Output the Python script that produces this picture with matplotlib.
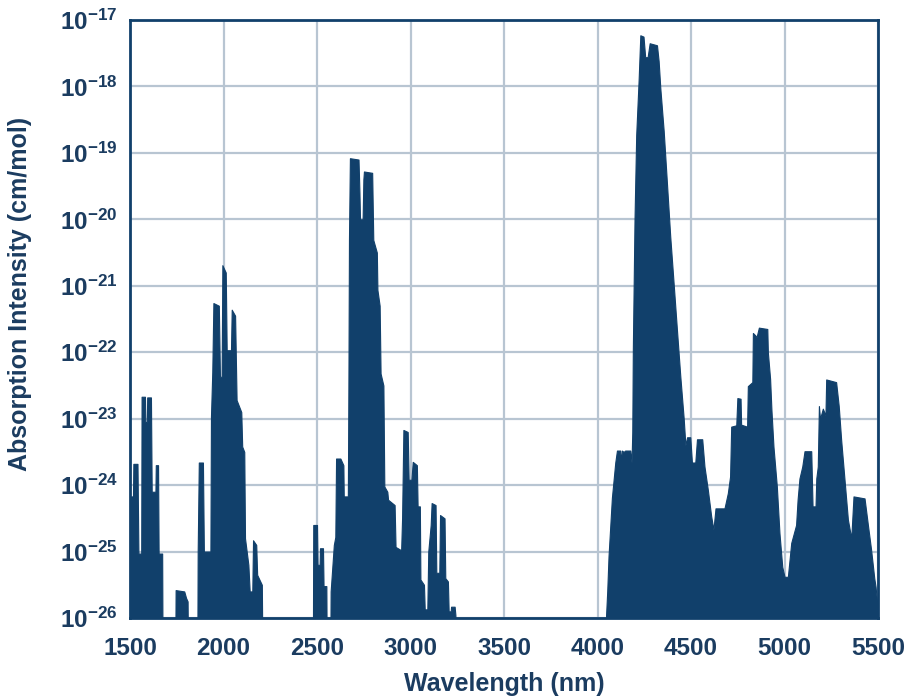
import numpy as np
import matplotlib.pyplot as plt
from matplotlib.ticker import FuncFormatter

# envelope of the absorption lines
# wavelength in nm, log10 of intensity (cm/mol); -26.5 = below the axis
wl_a = [1500, 1506, 1506, 1516, 1518, 1540, 1545, 1560, 1562, 1580, 1582, 1590,
        1592, 1612, 1616, 1636, 1638, 1650, 1653, 1672, 1674,
        1742, 1744, 1790, 1800, 1808, 1810]
lg_a = [-24.6, -24.6, -24.17, -24.17, -23.68, -23.68, -25.03, -25.03, -22.67, -22.67, -23.05, -23.05,
        -22.68, -22.68, -24.1, -24.1, -23.7, -23.7, -25.03, -25.03, -26.5,
        -26.5, -25.58, -25.6, -25.7, -25.75, -26.5]

wl_b = [1860, 1862, 1868, 1890, 1895, 1930, 1933, 1940, 1946, 1975, 1981, 1990,
        1994, 2012, 2017, 2040, 2044, 2062, 2070, 2095, 2100, 2111, 2115, 2133,
        2140, 2154, 2158, 2175, 2180, 2205, 2208]
lg_b = [-26.5, -25.0, -23.66, -23.66, -25.0, -25.0, -22.97, -22.3, -21.26, -21.3, -22.37, -22.37,
        -20.69, -20.8, -21.97, -21.97, -21.36, -21.45, -22.72, -22.9, -23.42, -23.5, -24.8, -25.2,
        -25.6, -25.6, -24.83, -24.9, -25.35, -25.5, -26.5]

wl_c = [2478, 2480, 2500, 2503, 2514, 2516, 2532, 2535, 2550, 2552]
lg_c = [-26.5, -24.6, -24.6, -25.2, -25.2, -24.95, -24.95, -25.52, -25.52, -26.5]

wl_d = [2571, 2573, 2590, 2598, 2602, 2625, 2641, 2643, 2665, 2668, 2671, 2676,
        2722, 2727, 2730, 2744, 2748, 2751, 2795, 2801, 2820, 2823, 2835, 2840,
        2855, 2860, 2876, 2880, 2915, 2920, 2950, 2955, 2962, 2985, 2990, 3005,
        3012, 3034, 3038, 3050, 3053, 3072, 3076, 3090, 3095, 3108, 3113, 3134,
        3138, 3154, 3158, 3182, 3186, 3200, 3204, 3215, 3217, 3236, 3240, 3247]
lg_d = [-26.5, -25.6, -24.9, -24.78, -23.6, -23.6, -23.7, -24.17, -24.17, -22.5, -20.3, -19.08,
        -19.1, -19.6, -20.0, -20.0, -19.4, -19.28, -19.3, -20.31, -20.5, -21.06, -21.3, -22.32,
        -22.5, -24.02, -24.1, -24.22, -24.3, -24.93, -24.98, -24.5, -23.17, -23.2, -23.92, -23.92,
        -23.65, -23.7, -24.32, -24.32, -25.42, -25.5, -25.87, -25.87, -25.0, -24.6, -24.27, -24.3,
        -25.32, -25.32, -24.45, -24.5, -25.4, -25.45, -25.9, -25.9, -25.83, -25.83, -25.95, -26.5]

wl_e = [4044, 4046, 4052, 4059, 4077, 4095, 4104, 4121, 4126, 4130, 4140, 4148,
        4175, 4182, 4186, 4189, 4198, 4207, 4220, 4229, 4246, 4255, 4268, 4279,
        4318, 4327, 4336, 4354, 4371, 4389, 4407, 4425, 4443, 4461, 4470, 4479,
        4496, 4505, 4523, 4532, 4560, 4572, 4590, 4608, 4620, 4631, 4679, 4697,
        4709, 4715, 4742, 4748, 4765, 4768, 4800, 4804, 4828, 4831, 4845, 4850,
        4863, 4908, 4911, 4923, 4930, 4941, 4959, 4973, 4988, 5000, 5018, 5025,
        5036, 5062, 5070, 5080, 5095, 5107, 5143, 5150, 5166, 5170, 5178, 5184,
        5190, 5205, 5219, 5223, 5276, 5290, 5303, 5321, 5339, 5357, 5369, 5428,
        5446, 5463, 5480, 5487, 5500]
lg_e = [-26.5, -25.95, -25.6, -25.07, -24.19, -23.66, -23.48, -23.48, -23.66, -23.48, -23.5, -23.48,
        -23.48, -23.66, -23.2, -21.96, -20.0, -18.73, -17.9, -17.23, -17.25, -17.56, -17.56, -17.35,
        -17.38, -17.62, -18.03, -18.67, -19.44, -20.26, -20.96, -21.67, -22.37, -23.0, -23.4, -23.28,
        -23.28, -23.66, -23.66, -23.31, -23.31, -23.72, -24.07, -24.47, -24.67, -24.35, -24.35, -24.12,
        -23.87, -23.12, -23.1, -22.69, -22.7, -23.09, -23.12, -22.51, -22.45, -21.71, -21.75, -21.78,
        -21.63, -21.65, -22.0, -22.4, -22.86, -23.42, -24.02, -24.72, -25.23, -25.38, -25.38, -25.18,
        -24.87, -24.6, -24.22, -23.9, -23.72, -23.49, -23.49, -24.32, -24.32, -23.9, -23.72, -22.81,
        -23.0, -22.85, -22.95, -22.41, -22.45, -22.81, -23.32, -23.92, -24.52, -24.8, -24.17, -24.2,
        -24.6, -24.97, -25.4, -25.53, -25.9]

x_ticks = [1500, 2000, 2500, 3000, 3500, 4000, 4500, 5000, 5500]
y_exps = list(range(-26, -16))

navy = '#11406b'
text_col = '#1b3c60'
grid_col = '#b8c5d2'

plt.rcParams['font.family'] = ['Liberation Sans', 'DejaVu Sans']
plt.rcParams['mathtext.fontset'] = 'custom'
plt.rcParams['mathtext.rm'] = 'Liberation Sans:bold'
plt.rcParams['mathtext.bf'] = 'Liberation Sans:bold'
plt.rcParams['mathtext.default'] = 'bf'

fig = plt.figure(figsize=(9.23, 6.97), dpi=100)
ax = fig.add_axes([130/923, 1 - 618/697, 748/923, 598/697])

for wl, lg in [(wl_a, lg_a), (wl_b, lg_b), (wl_c, lg_c), (wl_d, lg_d), (wl_e, lg_e)]:
    ax.fill_between(wl, 10.0 ** np.array(lg), 1e-27, color=navy, lw=0.8, zorder=3)

ax.set_yscale('log')
ax.set_xlim(1500, 5500)
ax.set_ylim(1e-26, 1e-17)
ax.set_xticks(x_ticks)
ax.set_yticks([10.0 ** e for e in y_exps])
ax.yaxis.set_minor_locator(plt.NullLocator())
ax.yaxis.set_major_formatter(FuncFormatter(
    lambda v, p: r'$\mathbf{10^{%d}}$' % int(round(np.log10(v)))))

ax.grid(True, color=grid_col, lw=1.6, zorder=0)
ax.set_axisbelow(True)
for s in ax.spines.values():
    s.set_color(navy)
    s.set_linewidth(2.0)
    s.set_zorder(5)

ax.tick_params(length=0, labelsize=17.5, labelcolor=text_col)
ax.tick_params(axis='x', pad=14)
ax.tick_params(axis='y', pad=9)
for lab in ax.get_xticklabels():
    lab.set_fontweight('bold')

ax.set_xlabel('Wavelength (nm)', fontsize=18, fontweight='bold', color=text_col, labelpad=8)
ax.set_ylabel('Absorption Intensity (cm/mol)', fontsize=18, fontweight='bold', color=text_col)
ax.yaxis.set_label_coords(-0.131, 0.542)

fig.savefig('out.png', dpi=100)
